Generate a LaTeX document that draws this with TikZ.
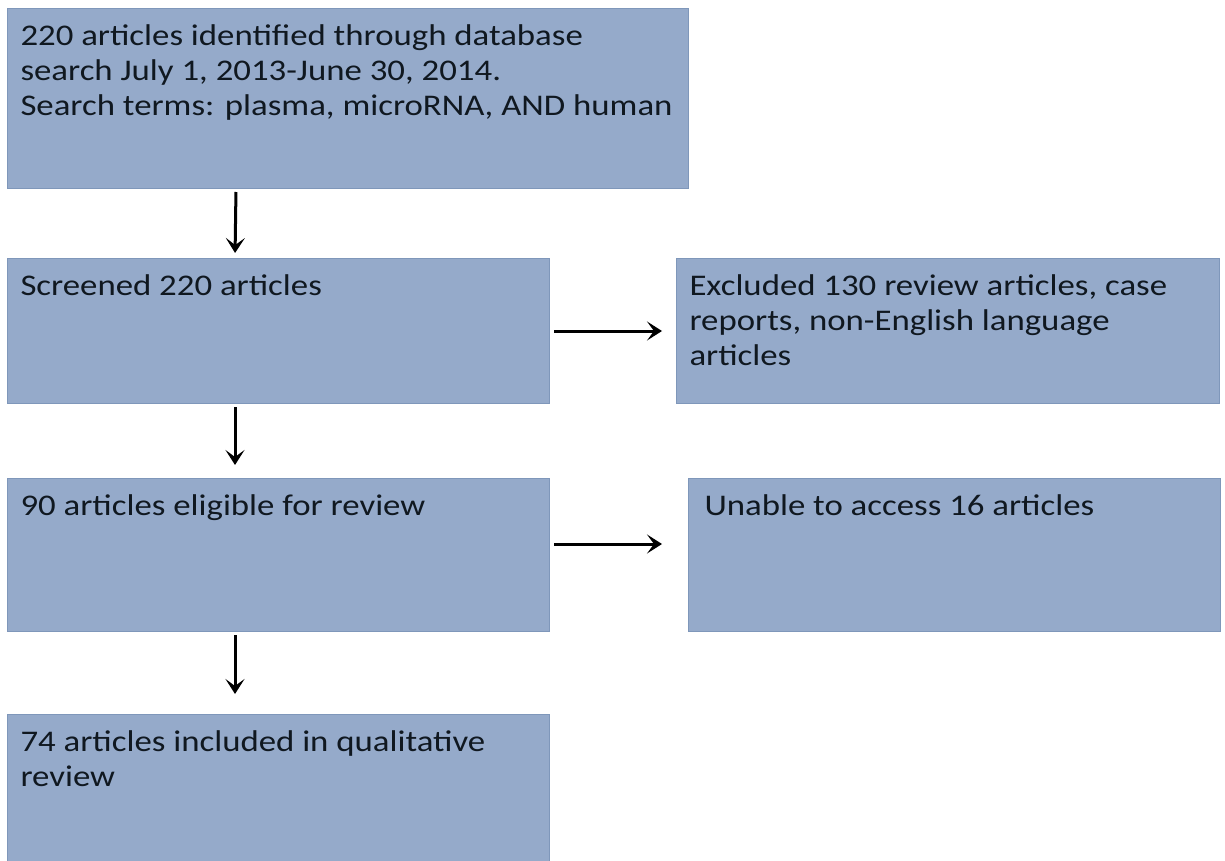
\documentclass[tikz,border=0pt]{standalone}
\usepackage{fontspec}
\setmainfont{Carlito}[FakeStretch=1.16]
\usepackage{xcolor}
\usetikzlibrary{positioning, arrows.meta}

\definecolor{stagefill}{HTML}{95AACA}
\definecolor{stageline}{HTML}{7F97BA}
\definecolor{textcol}{HTML}{101820}

% box text: width, height, lines
\newcommand{\stagetext}[3]{\parbox[c][#2][t]{#1}{\hfuzz=20pt\rule{0pt}{37pt}#3}}

\begin{document}
\begin{tikzpicture}[x=1pt, y=-1pt, >={Stealth[length=15pt, width=19pt, inset=7pt]},
    stagebox/.style={draw=stageline, line width=1pt, fill=stagefill, inner xsep=13pt, inner ysep=0pt, anchor=north west, text=textcol, font=\fontsize{30}{35}\selectfont},
    flow/.style={->, line width=3pt, black}]
    \useasboundingbox (0,0) rectangle (1225,861);

    \node [stagebox] at (7,8) (search) {\stagetext{655pt}{180pt}{220 articles identified through database\\ search July 1, 2013-June 30, 2014.\\ \mbox{Search terms: plasma, microRNA, AND human}}};
    \node [stagebox, below=69pt of search.south west, anchor=north west] (screen) {\stagetext{516pt}{145pt}{Screened 220 articles}};
    \node [stagebox, right=126pt of screen.north east, anchor=north west] (excl) {\stagetext{517pt}{145pt}{Excluded 130 review articles, case\\ reports, non-English language\\ articles}};
    \node [stagebox, below=74pt of screen.south west, anchor=north west] (elig) {\stagetext{516pt}{153pt}{90 articles eligible for review}};
    \node [stagebox, right=138pt of elig.north east, anchor=north west, inner xsep=16pt] (noacc) {\stagetext{500pt}{153pt}{Unable to access 16 articles}};
    \node [stagebox, below=82pt of elig.south west, anchor=north west] (incl) {\stagetext{516pt}{147pt}{74 articles included in qualitative\\ review}};

    \draw [flow, shorten <=3pt, shorten >=5pt] ([xshift=229pt]search.south west) -- ([xshift=228pt]screen.north west);
    \draw [flow, shorten <=3pt, shorten >=13pt] ([xshift=228pt]screen.south west) -- ([xshift=228pt]elig.north west);
    \draw [flow, shorten <=3pt, shorten >=20pt] ([xshift=228pt]elig.south west) -- ([xshift=228pt]incl.north west);
    \draw [flow, shorten <=4pt, shorten >=14pt] (screen.east) -- (screen.east -| excl.west);
    \draw [flow, shorten <=4pt, shorten >=26pt] ([yshift=11pt]elig.east) -- ([yshift=11pt]elig.east -| noacc.west);
\end{tikzpicture}
\end{document}
